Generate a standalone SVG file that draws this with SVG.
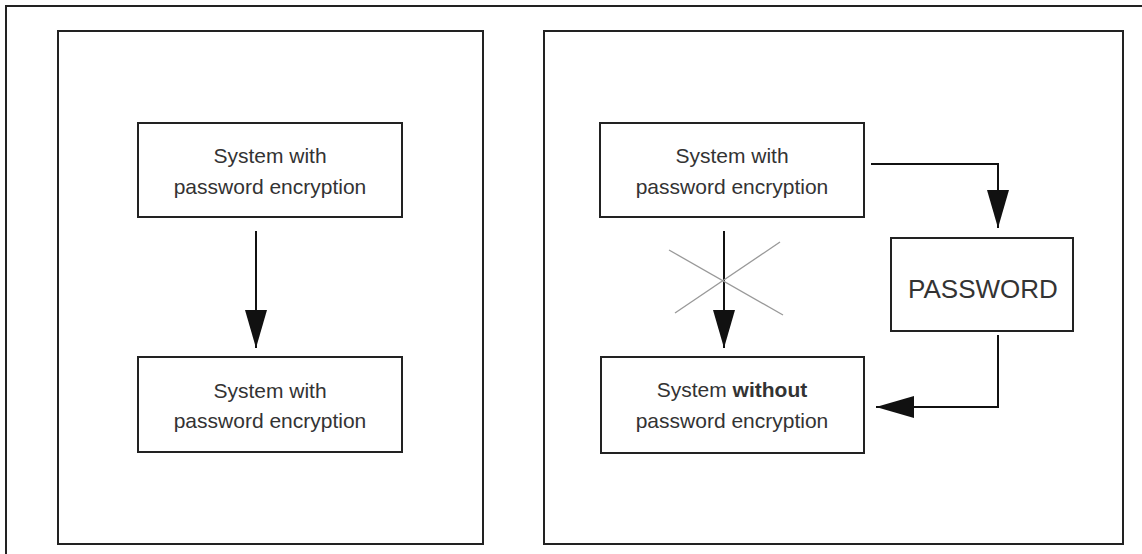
<svg xmlns="http://www.w3.org/2000/svg" width="1142" height="554" viewBox="0 0 1142 554">
  <defs>
    <style>
      .frame { fill: none; stroke: #222; stroke-width: 2; }
      .box { fill: #fff; stroke: #222; stroke-width: 2; }
      .txt { font-family: "Liberation Sans", Arial, sans-serif; font-size: 21px; fill: #333; text-anchor: middle; }
      .big { font-size: 26px; }
      .con { fill: none; stroke: #111; stroke-width: 2; }
      .cross { stroke: #999; stroke-width: 1.3; }
    </style>
    <marker id="arr" markerWidth="38" markerHeight="22" refX="38" refY="11" viewBox="0 0 38 22" orient="auto" markerUnits="userSpaceOnUse">
      <path d="M0,0 L38,11 L0,22 Z" fill="#111"/>
    </marker>
  </defs>
  <rect width="1142" height="554" fill="#fff"/>
  <g id="outer-frame">
    <rect x="6" y="6" width="1150" height="560" class="frame"/>
  </g>
  <g id="left-panel">
    <rect x="58" y="31" width="425" height="513" class="frame"/>
  </g>
  <g id="right-panel">
    <rect x="544" y="31" width="579" height="513" class="frame"/>
  </g>
  <g id="connectors">
    <line x1="256" y1="231" x2="256" y2="348" class="con" marker-end="url(#arr)"/>
    <line x1="724" y1="231" x2="724" y2="348" class="con" marker-end="url(#arr)"/>
    <polyline points="871,164 998,164 998,228" class="con" marker-end="url(#arr)"/>
    <polyline points="998,335 998,407 876,407" class="con" marker-end="url(#arr)"/>
    <line x1="669" y1="250" x2="783" y2="315" class="cross"/>
    <line x1="780" y1="242" x2="675" y2="313" class="cross"/>
  </g>
  <g id="left-top">
    <rect x="138" y="123" width="264" height="94" class="box"/>
    <text x="270" y="163" class="txt">System with</text>
    <text x="270" y="194" class="txt">password encryption</text>
  </g>
  <g id="left-bottom">
    <rect x="138" y="357" width="264" height="95" class="box"/>
    <text x="270" y="398" class="txt">System with</text>
    <text x="270" y="428" class="txt">password encryption</text>
  </g>
  <g id="right-top">
    <rect x="600" y="123" width="264" height="94" class="box"/>
    <text x="732" y="163" class="txt">System with</text>
    <text x="732" y="194" class="txt">password encryption</text>
  </g>
  <g id="password">
    <rect x="891" y="238" width="182" height="93" class="box"/>
    <text x="983" y="298" class="txt big">PASSWORD</text>
  </g>
  <g id="right-bottom">
    <rect x="601" y="357" width="263" height="96" class="box"/>
    <text x="732" y="397" class="txt">System  <tspan font-weight="bold">without</tspan></text>
    <text x="732" y="428" class="txt">password encryption</text>
  </g>
</svg>
